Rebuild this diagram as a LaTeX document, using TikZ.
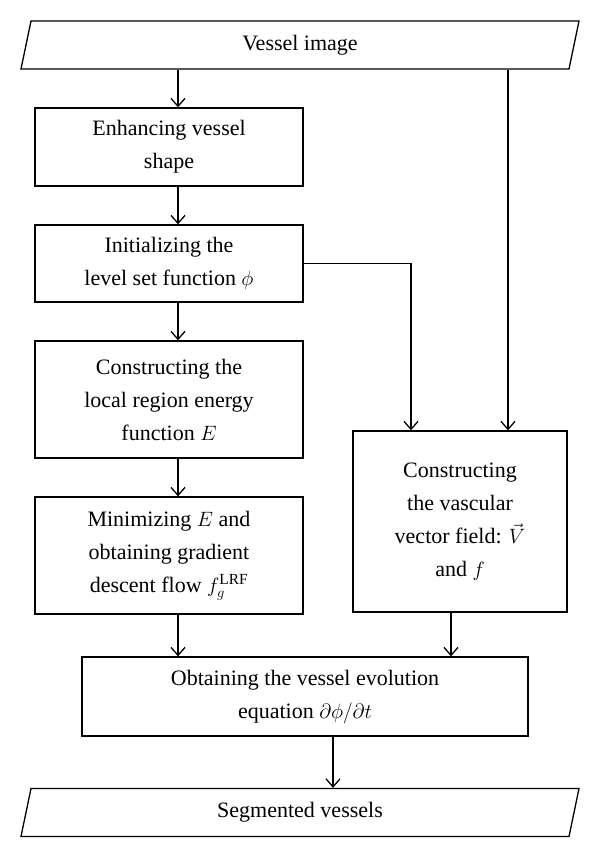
\documentclass[tikz,border=0pt]{standalone}
\usepackage{amsmath}
\usepackage{fontspec}
\setmainfont{Liberation Serif}
\usepackage{tikz}
\usetikzlibrary{shapes.geometric,arrows.meta}

\tikzset{
  procbox/.style={draw, rectangle, inner sep=0pt, align=center, font=\fontsize{22}{33}\selectfont},
  iobox/.style={draw, trapezium, trapezium left angle=63.43, trapezium right angle=116.57,
    trapezium stretches body, minimum width=558, minimum height=48, inner sep=0pt,
    font=\fontsize{22}{33}\selectfont},
  flow/.style={-{Straight Barb[length=8pt,width=14pt]}}
}

\begin{document}
\begin{tikzpicture}[x=1pt,y=1pt,yscale=-1,line width=1.3pt]

\useasboundingbox (0,0) rectangle (600,858);

\node [iobox] (vimg) at (300,45) {Vessel image};

\node [procbox, minimum width=268, minimum height=78] (enh) at (169,147) {Enhancing vessel\\shape};

\node [procbox, minimum width=268, minimum height=77] (init) at (169,263.5) {Initializing the\\level set function $\phi$};

\node [procbox, minimum width=268, minimum height=117] (cons) at (169,399.5) {Constructing the\\local region energy\\function $E$};

\node [procbox, minimum width=268, minimum height=117] (mini) at (169,555.5) {Minimizing $E$ and\\obtaining gradient\\descent flow $f_g^{\mathrm{LRF}}$};

\node [procbox, minimum width=214, minimum height=181] (vec) at (460,521.5) {Constructing\\the vascular\\vector field: $\vec{V}$\\and $f$};

\node [procbox, minimum width=446, minimum height=79] (obt) at (305,696.5) {Obtaining the vessel evolution\\equation $\partial\phi/\partial t$};

\node [iobox] (seg) at (300,812.5) {Segmented vessels};

\coordinate (lx) at (178,0);
\coordinate (rx) at (508,0);
\coordinate (mx) at (411,0);
\coordinate (bx) at (451,0);
\coordinate (ox) at (333,0);

\draw [flow] (vimg.south -| lx) -- (enh.north -| lx);
\draw [flow] (enh.south -| lx) -- (init.north -| lx);
\draw [flow] (init.south -| lx) -- (cons.north -| lx);
\draw [flow] (cons.south -| lx) -- (mini.north -| lx);
\draw [flow] (mini.south -| lx) -- (obt.north -| lx);

\draw [flow] (vimg.south -| rx) -- (vec.north -| rx);
\draw [flow] (init.east) -| (vec.north -| mx);
\draw [flow] (vec.south -| bx) -- (obt.north -| bx);

\draw [flow] (obt.south -| ox) -- (seg.north -| ox);

\end{tikzpicture}
\end{document}
